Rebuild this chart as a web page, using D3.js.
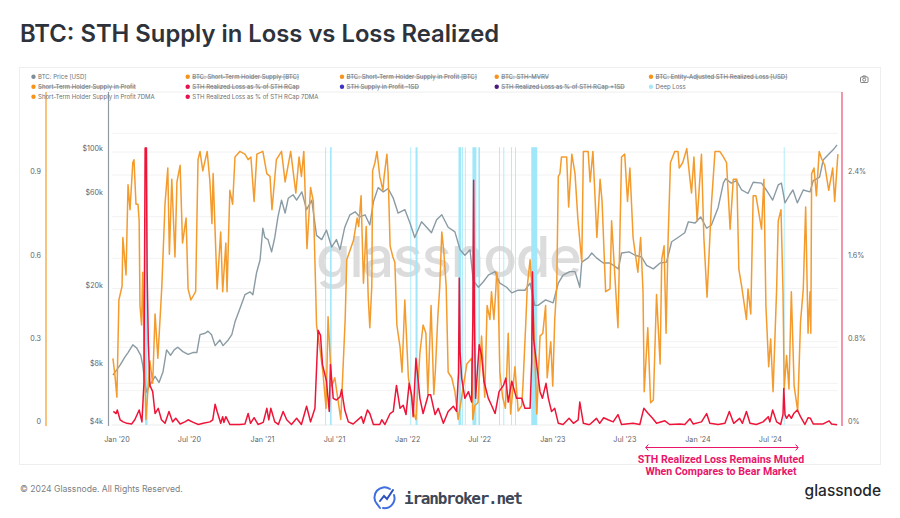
<!DOCTYPE html>
<html>
<head>
<meta charset="utf-8">
<script src="https://cdn.jsdelivr.net/npm/d3@7"></script>
<style>
  html, body { margin: 0; padding: 0; background: #fff; }
  svg { display: block; font-family: Inter, sans-serif; }
  .axis path, .axis line { display: none; }
  .axis text { fill: #5f6368; font-size: 7.2px; font-family: Inter, sans-serif; }
</style>
</head>
<body>
<svg id="chart" width="900" height="518"></svg>
<script>
// days counted from 1 Jan 2020
const orangeDays = [-9,-4,1,6,14,16,24,29,34,41,44,49,54,57,59,63,66,69,74,84,91,97,104,111,114,122,129,133,139,147,152,160,166,175,180,187,199,205,210,217,228,235,240,243,253,262,267,275,278,285,292,298,310,323,331,338,346,353,368,378,386,391,402,415,424,438,451,459,465,471,479,488,495,501,503,512,519,527,532,541,549,564,575,579,596,605,609,615,621,628,633,637,642,644,650,655,662,670,673,680,683,688,695,700,705,713,718,725,734,740,748,753,763,771,778,783,791,798,802,808,813,818,823,829,834,843,851,859,868,881,893,896,901,909,918,926,932,939,943,949,954,956,959,964,971,978,985,991,1002,1010,1019,1022,1029,1033,1040,1047,1057,1065,1072,1079,1083,1092,1097,1102,1107,1111,1115,1119,1132,1137,1145,1153,1160,1170,1174,1186,1191,1198,1208,1216,1221,1230,1241,1245,1251,1261,1270,1278,1285,1291,1299,1311,1318,1324,1327,1336,1343,1350,1358,1367,1371,1377,1382,1387,1393,1404,1412,1415,1424,1434,1442,1446,1452,1460,1471,1477,1485,1496,1505,1517,1526,1534,1543,1551,1560,1565,1572,1584,1588,1595,1601,1608,1622,1628,1633,1640,1645,1651,1660,1664,1671,1676,1679,1685,1691,1697,1704,1713,1720,1727,1733,1739,1744,1746,1748,1754,1760,1767,1774,1781,1791,1801,1806,1814]
const orangeShare = [.24,.18,.1,.45,.5,.675,.54,.865,.775,.945,.955,.795,.795,.735,.43,.36,.55,.3,.02,.23,.15,.4,.24,.42,.5,.795,.925,.615,.885,.605,.875,.935,.655,.745,.49,.45,.48,.955,.985,.915,.985,.875,.725,.905,.49,.695,.48,.655,.48,.845,.795,.965,.985,.975,.955,.965,.805,.975,.985,.905,.895,.775,.955,.985,.875,.985,.835,.965,.895,.985,.635,.855,.805,.48,.36,.27,.19,.06,.39,.14,.17,.02,.38,.595,.665,.745,.715,.825,.51,.715,.46,.35,.5,.915,.945,.985,.895,.845,.895,.975,.905,.645,.605,.585,.36,.28,.19,.45,.17,.12,.04,.02,.26,.36,.33,.11,.43,.11,.2,.39,.5,.695,.625,.5,.19,.17,.12,.02,.1,.22,.24,.02,.07,.08,.32,.1,.43,.38,.48,.38,.49,.55,.52,.19,.1,.06,.33,.04,.21,.05,.07,.14,.36,.5,.595,.45,.04,.32,.33,.43,.17,.3,.14,.38,.5,.895,.905,.965,.965,.785,.975,.905,.745,.585,.985,.985,.875,.985,.675,.885,.805,.48,.49,.735,.59,.35,.965,.975,.805,.925,.675,.55,.675,.48,.12,.35,.08,.09,.47,.22,.595,.645,.33,.665,.945,.985,.985,.925,.945,.995,.885,.835,.965,.735,.975,.675,.46,.795,.985,.985,.965,.945,.705,.885,.885,.56,.5,.38,.49,.4,.825,.825,.705,.885,.43,.21,.31,.12,.49,.735,.775,.48,.13,.25,.13,.48,.14,.05,.37,.49,.785,.33,.48,.33,.905,.925,.825,.985,.955,.935,.845,.925,.805,.975]

const priceDays = [-9,9,21,29,41,51,61,66,72,76,84,97,107,117,126,136,145,154,167,180,192,202,210,223,230,239,248,260,268,281,290,298,310,323,336,343,352,361,368,373,381,390,398,406,415,424,432,444,453,466,478,491,503,516,528,541,553,562,574,587,600,612,625,637,646,658,671,683,696,708,725,738,750,767,780,792,805,818,834,851,864,876,889,897,910,922,935,952,964,981,994,1010,1027,1040,1052,1060,1079,1098,1111,1123,1140,1153,1165,1170,1186,1195,1207,1224,1241,1262,1270,1289,1304,1320,1333,1350,1367,1383,1396,1412,1429,1438,1455,1469,1484,1496,1513,1526,1532,1546,1559,1572,1588,1601,1622,1634,1650,1664,1672,1681,1693,1701,1712,1727,1744,1752,1768,1777,1789,1802,1812]
const priceUsdK = [7.2,8.1,8.9,9.4,10.3,9.9,9.1,8.1,6.4,5.9,6.4,7.1,6.6,7.5,9.7,9.1,9.7,10,9.5,9.2,9.4,9.4,11.6,11.8,12.1,11.6,10.2,10.9,10.2,10.9,11.6,13.5,15.7,18.6,19.2,18.6,24,28,40.7,36.5,35.6,30.8,36.5,46.5,56.7,48.7,58,60.4,56.7,62.5,50.7,56.7,37.4,35.6,39.8,32.6,35.6,31.6,41.2,47.7,49.4,46.5,47.7,42.3,55.6,65.7,62.5,65,58,48.7,50.7,43.3,36.5,43.9,41.2,38.6,45,47.7,41.2,39,31.6,29.6,31.6,22,20.3,21.6,23.4,24.4,21.3,20.3,19,19.6,19.6,21.3,16.4,16.4,17.5,16.9,21.3,23.4,24.4,24.4,20.3,27.3,28.7,30.4,28.7,27,27,25.2,30.4,30.8,29.6,29,26.3,25.2,27,27.3,34.7,36.5,38.6,43.9,43.3,46.5,40.7,42.3,52,69.3,73,69.3,71.3,63.9,61.3,70,69.3,63.9,56.7,67.8,69.3,54.9,60.4,63.9,54.9,63.9,62.5,71.3,74.4,91,96.6,102.6,108.8]

const lossDays = [-8,-1,2,9,17,26,38,46,57,64,69,72,75,77,80,84,91,97,105,113,122,132,141,149,160,172,180,193,206,218,235,242,248,253,262,267,270,275,285,310,323,331,337,346,356,369,378,383,388,398,407,419,428,440,453,465,478,488,499,507,513,518,528,535,538,545,553,562,566,574,583,595,616,621,631,637,646,662,667,675,688,696,704,713,721,728,736,742,746,753,763,771,784,790,801,809,822,834,847,855,860,862,864,868,876,885,893,896,898,900,903,912,918,924,935,943,952,962,973,979,985,994,1006,1019,1027,1040,1044,1046,1049,1056,1065,1071,1080,1086,1094,1102,1111,1123,1138,1149,1161,1165,1174,1186,1190,1207,1215,1225,1236,1249,1261,1270,1299,1316,1326,1337,1348,1358,1379,1391,1417,1429,1442,1450,1471,1484,1492,1513,1530,1541,1552,1567,1574,1584,1593,1609,1626,1639,1643,1650,1660,1670,1676,1678,1681,1685,1691,1697,1703,1712,1720,1731,1739,1745,1752,1777,1792,1798,1812]
const lossPct = [.13,.11,.144,.05,.03,.016,.01,.05,.144,.03,.4,2.66,2.66,1.48,.8,.38,.32,.11,.16,.05,.016,.13,.03,.064,.01,.03,.05,.025,.005,.016,.03,.05,.2,.13,.016,.08,.025,.08,.005,.005,.01,.11,.016,.07,.005,.025,.16,.05,.16,.03,.005,.13,.05,.005,.064,.005,.18,.03,.16,.91,.86,.58,.42,.13,.58,.256,.24,.27,.34,.144,.03,.01,.08,.016,.144,.11,.005,.005,.05,.005,.11,.13,.38,.16,.19,.1,.4,.29,.08,.64,.256,.11,.29,.29,.1,.16,.016,.13,.18,.13,.5,1.41,.7,.45,.256,.32,.22,1,2.35,1,.256,.77,.67,.42,.256,.19,.11,.32,.38,.45,.22,.42,.256,.256,.16,.16,.6,1.47,.82,.6,.32,.256,.4,.256,.13,.16,.016,.005,.064,.016,.05,.22,.016,.005,.005,.064,.016,.07,.05,.03,.1,.005,.016,.005,.16,.11,.064,.016,.04,.005,.01,.005,.06,.01,.03,.11,.016,.005,.016,.13,.016,.064,.016,.13,.016,.005,.03,.08,.03,.144,.03,.005,.1,.35,.1,.064,.1,.064,.11,.144,.08,.005,.07,.064,.01,.01,.04,.01,.003]

// deep loss windows, start and end day
const deepLossStart = [72,525,537,739,752,860,869,876,895,910,962,973,992,1002,1043,1678]
const deepLossEnd = [78,527,541,741,757,867,871,878,905,914,964,975,994,1004,1058,1680]

const xTicks = ['2020-01-01','2020-07-01','2021-01-01','2021-07-01','2022-01-01','2022-07-01','2023-01-01','2023-07-01','2024-01-01','2024-07-01']
const shareTicks = [0, .3, .6, .9]
const lossTicks = [0, .8, 1.6, 2.4]
const priceTicks = [4, 8, 20, 60, 100]
const shareGrid = [.15, .3, .45, .6, .75, .9, 1.05]
const priceGrid = [6, 10, 20, 40, 100]

const legendRows = [
  [['BTC: Price [USD]', '#7f8f98', false], ['BTC: Short-Term Holder Supply [BTC]', '#f7931a', true], ['BTC: Short-Term Holder Supply in Profit [BTC]', '#f7931a', true], ['BTC: STH-MVRV', '#f7931a', true], ['BTC: Entity-Adjusted STH Realized Loss [USD]', '#f7931a', true]],
  [['Short-Term Holder Supply in Profit', '#f7931a', true], ['STH Realized Loss as % of STH RCap', '#e8124f', true], ['STH Supply in Profit -1SD', '#3f33c4', true], ['STH Realized Loss as % of STH RCap +1SD', '#4b1a7e', true], ['Deep Loss', '#a9e8f8', false]],
  [['Short-Term Holder Supply in Profit 7DMA', '#f7931a', false], ['STH Realized Loss as % of STH RCap 7DMA', '#e8124f', false]]
]
const legendX = [33.5, 187.7, 342, 496.7, 651]
const legendY = [76.7, 86.7, 96.7]

const svg = d3.select('#chart')
const parse = d3.timeParse('%Y-%m-%d')
const origin = parse('2020-01-01')
const dayToDate = d => d3.timeDay.offset(origin, d)

//scales, all three y axes share the same plot height
const x = d3.scaleTime().domain([origin, parse('2024-01-01')]).range([116.5, 697.5])
const yShare = d3.scaleLinear().domain([0, .9]).range([425, 175])
const yLoss = d3.scaleLinear().domain([0, 2.4]).range([425, 175])
const yPrice = d3.scaleLog().domain([4, 100]).range([425, 152])

//title
svg.append('text')
  .attr('x', 20).attr('y', 42)
  .attr('font-size', 23.8).attr('font-weight', 600)
  .attr('fill', '#2e333b')
  .text('BTC: STH Supply in Loss vs Loss Realized')

//card
svg.append('rect')
  .attr('x', 19.5).attr('y', 67.5).attr('width', 861).attr('height', 397)
  .attr('fill', '#fff').attr('stroke', '#eeeeee')

svg.append('line')
  .attr('x1', 46).attr('x2', 842).attr('y1', 92).attr('y2', 92)
  .attr('stroke', '#eaeaea').attr('stroke-width', .8)

//grid
const g = svg.append('g')
shareGrid.forEach(v => {
  g.append('line')
    .attr('x1', 112).attr('x2', 838).attr('y1', yShare(v)).attr('y2', yShare(v))
    .attr('stroke', '#efefef').attr('stroke-width', .8)
})
priceGrid.forEach(v => {
  g.append('line')
    .attr('x1', 112).attr('x2', 838).attr('y1', yPrice(v)).attr('y2', yPrice(v))
    .attr('stroke', '#efefef').attr('stroke-width', .8)
})
g.append('line')
  .attr('x1', 112).attr('x2', 838).attr('y1', 425).attr('y2', 425)
  .attr('stroke', '#e6e6e6').attr('stroke-width', .8)

//watermark
g.append('text')
  .attr('x', 449).attr('y', 277)
  .attr('text-anchor', 'middle')
  .attr('font-size', 56).attr('font-weight', 500)
  .attr('textLength', 266)
  .attr('fill', '#dcdcdc')
  .text('glassnode')

//deep loss windows
g.selectAll('.deep')
  .data(deepLossStart)
  .enter().append('rect')
  .attr('class', 'deep')
  .attr('x', d => x(dayToDate(d)))
  .attr('width', (d, i) => x(dayToDate(deepLossEnd[i])) - x(dayToDate(d)))
  .attr('y', yShare(1))
  .attr('height', yShare(0) - yShare(1))
  .attr('fill', '#a0e7f9')

//lines
const drawLine = (days, values, y, color, width) => {
  const line = d3.line()
    .x((d, i) => x(dayToDate(days[i])))
    .y(d => y(d))
  g.append('path')
    .datum(values)
    .attr('d', line)
    .attr('fill', 'none')
    .attr('stroke', color)
    .attr('stroke-width', width)
    .attr('stroke-linejoin', 'round')
}
drawLine(priceDays, priceUsdK, yPrice, '#8a9ba4', 1.4)
drawLine(orangeDays, orangeShare, yShare, '#f49b2d', 1.5)
drawLine(lossDays, lossPct, yLoss, '#ee1438', 1.5)

//axis bars
const bars = [[46, '#f49b2d'], [108.5, '#8f9aa3'], [842, '#e8506e']]
bars.forEach(b => {
  svg.append('line')
    .attr('x1', b[0]).attr('x2', b[0]).attr('y1', 92).attr('y2', 426)
    .attr('stroke', b[1]).attr('stroke-width', 1.2)
})

//axes, labels sit a little above their value like the original
const xAxis = d3.axisBottom(x)
  .tickValues(xTicks.map(parse))
  .tickFormat(d3.timeFormat("%b '%y"))
  .tickSize(0).tickPadding(12)
svg.append('g').attr('class', 'axis')
  .attr('transform', 'translate(0,425)')
  .call(xAxis)

const leftAxis = d3.axisLeft(yShare)
  .tickValues(shareTicks).tickFormat(d => d === 0 ? '0' : d3.format('.1f')(d))
  .tickSize(0).tickPadding(0)
svg.append('g').attr('class', 'axis')
  .attr('transform', 'translate(41,-3.5)')
  .call(leftAxis)

const priceAxis = d3.axisLeft(yPrice)
  .tickValues(priceTicks).tickFormat(d => `$${d}k`)
  .tickSize(0).tickPadding(0)
svg.append('g').attr('class', 'axis')
  .attr('transform', 'translate(103,-3.5)')
  .call(priceAxis)

const rightAxis = d3.axisRight(yLoss)
  .tickValues(lossTicks).tickFormat(d => `${d}%`)
  .tickSize(0).tickPadding(0)
svg.append('g').attr('class', 'axis')
  .attr('transform', 'translate(848,-3.5)')
  .call(rightAxis)

//legend
legendRows.forEach((row, r) => {
  row.forEach((item, c) => {
    svg.append('circle')
      .attr('cx', legendX[c]).attr('cy', legendY[r]).attr('r', 2.2)
      .attr('fill', item[1])
    svg.append('text')
      .attr('x', legendX[c] + 4.6).attr('y', legendY[r] + 2.3)
      .attr('font-size', 6)
      .attr('fill', '#6b7075')
      .attr('text-decoration', item[2] ? 'line-through' : null)
      .text(item[0])
  })
})

//camera icon
const cam = svg.append('g').attr('transform', 'translate(860,75.5)')
  .attr('fill', 'none').attr('stroke', '#666').attr('stroke-width', .8)
cam.append('rect').attr('x', .5).attr('y', 1.5).attr('width', 7.5).attr('height', 5.5).attr('rx', .8)
cam.append('circle').attr('cx', 4.2).attr('cy', 4.2).attr('r', 1.5)
cam.append('path').attr('d', 'M2.5 1.5 L3 .4 L5.5 .4 L6 1.5')

//annotation, the arrow spans the muted period
const pink = '#e8156a'
const arrowStart = x(parse('2023-08-24'))
const arrowEnd = x(parse('2024-09-10'))
const ann = svg.append('g')
ann.append('line')
  .attr('x1', arrowStart).attr('x2', arrowEnd)
  .attr('y1', 447.5).attr('y2', 447.5)
  .attr('stroke', pink).attr('stroke-width', 1)
ann.append('path')
  .attr('d', `M${arrowStart + 2.5} 444.5 L${arrowStart} 447.5 L${arrowStart + 2.5} 450.5`)
  .attr('fill', 'none').attr('stroke', pink).attr('stroke-width', 1)
ann.append('path')
  .attr('d', `M${arrowEnd - 2.5} 444.5 L${arrowEnd} 447.5 L${arrowEnd - 2.5} 450.5`)
  .attr('fill', 'none').attr('stroke', pink).attr('stroke-width', 1)
const annLines = ['STH Realized Loss Remains Muted', 'When Compares to Bear Market']
annLines.forEach((t, i) => {
  ann.append('text')
    .attr('x', 721).attr('y', 462.5 + i * 12.2)
    .attr('text-anchor', 'middle')
    .attr('font-family', 'Roboto, sans-serif')
    .attr('font-size', 10.6).attr('font-weight', 700)
    .attr('fill', pink)
    .text(t)
})

//footer
svg.append('text')
  .attr('x', 20).attr('y', 492)
  .attr('font-size', 8.6).attr('fill', '#7b7f84')
  .text('© 2024 Glassnode. All Rights Reserved.')

svg.append('text')
  .attr('x', 881).attr('y', 496)
  .attr('text-anchor', 'end')
  .attr('font-size', 15.5).attr('font-weight', 500)
  .attr('fill', '#23272c')
  .text('glassnode')

const logo = svg.append('g').attr('transform', 'translate(385,498)')
  .attr('fill', 'none').attr('stroke', '#3f6fe0').attr('stroke-width', 2).attr('stroke-linecap', 'round')
logo.append('path').attr('d', 'M5 -9 A10 10 0 0 0 -8 6 L-5 10')
logo.append('path').attr('d', 'M9 -3 A10 10 0 0 1 -2 10')
logo.append('path').attr('d', 'M-5 3 L-1 -2 L2 1 L8 -8').attr('stroke', '#2a4fc0')

svg.append('text')
  .attr('x', 404).attr('y', 504)
  .attr('font-family', '"DejaVu Sans Mono", monospace')
  .attr('font-size', 16).attr('font-weight', 700)
  .attr('textLength', 119)
  .attr('fill', '#3d4757')
  .text('iranbroker.net')
</script>
</body>
</html>
